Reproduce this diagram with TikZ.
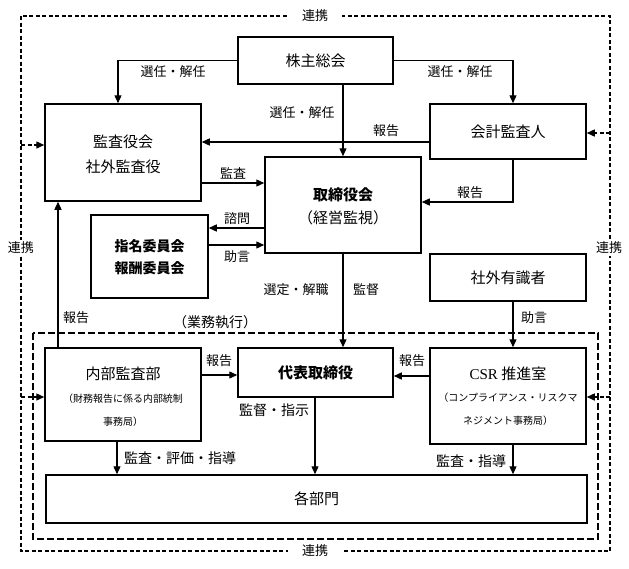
\documentclass[tikz,border=0pt]{standalone}
\usepackage{fontspec}
\setmainfont{Noto Sans CJK JP}
\newfontfamily\latinserif{Liberation Serif}
\usetikzlibrary{arrows.meta}
\begin{document}
\begin{tikzpicture}[x=1pt,y=-1pt,
  box/.style={draw, line width=1.5pt, fill=white, inner sep=0pt, font=\fontsize{15}{18}\selectfont},
  txt/.style={inner sep=0pt, font=\fontsize{15}{18}\selectfont},
  btxt/.style={inner sep=0pt, font=\fontsize{15}{18}\selectfont\bfseries},
  stxt/.style={inner sep=0pt, font=\fontsize{10}{12}\selectfont},
  lbl/.style={inner sep=0pt, font=\fontsize{13}{15}\selectfont},
  blbl/.style={inner sep=0pt, font=\fontsize{14}{16}\selectfont},
  arr/.style={line width=1.3pt, -{Triangle[length=8pt,width=7pt]}},
  darr/.style={line width=1.4pt, dash pattern=on 4pt off 2.5pt, -{Triangle[length=8pt,width=7pt]}},
  outerdash/.style={line width=1.4pt, dash pattern=on 4pt off 2.5pt},
  innerdash/.style={line width=2pt, dash pattern=on 7pt off 3pt},
  renkei/.style={fill=white, inner ysep=2pt, inner xsep=2pt, font=\fontsize{13}{15}\selectfont},
]
\useasboundingbox (0,0) rectangle (629,568);

% outer and inner dashed frames
\coordinate (oTL) at (21,16);
\coordinate (oBR) at (610,551);
\draw[outerdash] (oTL) rectangle (oBR);
\coordinate (iTL) at (33,333);
\coordinate (iBR) at (598,539);
\draw[innerdash] (iTL) rectangle (iBR);

\node[renkei, inner xsep=14pt] (rkT) at (315,16) {連携};
\node[renkei, inner xsep=14pt] (rkB) at (315,551) {連携};
\node[renkei] (rkL) at (21,248) {連携};
\node[renkei] (rkR) at (609,248) {連携};

% boxes
\node[box, minimum width=155pt, minimum height=47pt] (kabu) at (315.5,60.5) {株主総会};
\node[box, minimum width=156pt, minimum height=97pt] (kansa) at (123,152.5) {};
\node[txt] (kansaT1) at (123,142) {監査役会};
\node[txt] (kansaT2) at (123,167) {社外監査役};
\node[box, minimum width=156pt, minimum height=55pt] (kaikei) at (508,131.5) {会計監査人};
\node[box, minimum width=156pt, minimum height=96pt] (tori) at (343,205) {};
\node[btxt] (toriT1) at (343,195) {取締役会};
\node[txt] (toriT2) at (343,218) {（経営監視）};
\node[box, minimum width=117pt, minimum height=83pt] (shimei) at (149.5,256.5) {};
\node[btxt, font=\fontsize{14}{17}\selectfont\bfseries] (shimeiT1) at (149.5,246) {指名委員会};
\node[btxt, font=\fontsize{14}{17}\selectfont\bfseries] (shimeiT2) at (149.5,268) {報酬委員会};
\node[box, minimum width=156pt, minimum height=47pt] (shagai) at (508,277.5) {社外有識者};
\node[box, minimum width=156pt, minimum height=93pt] (naibu) at (123,394.5) {};
\node[txt] (naibuT1) at (123,374) {内部監査部};
\node[stxt] (naibuT2) at (123,399) {（財務報告に係る内部統制};
\node[stxt] (naibuT3) at (123,422) {事務局）};
\node[box, minimum width=155pt, minimum height=49pt, font=\fontsize{15}{18}\selectfont\bfseries] (daihyo) at (315.5,372.5) {代表取締役};
\node[box, minimum width=156pt, minimum height=96pt] (csr) at (508,396) {};
\node[txt] (csrT1) at (508,374) {{\latinserif CSR} 推進室};
\node[stxt] (csrT2) at (508,398) {（コンプライアンス・リスクマ};
\node[stxt] (csrT3) at (508,421) {ネジメント事務局）};
\node[box, minimum width=541pt, minimum height=48pt] (kakubu) at (316.5,499) {各部門};

% connectors
\draw[arr] (kabu.west) -| ([xshift=-5pt]kansa.north);
\draw[arr] (kabu.east) -| ([xshift=5pt]kaikei.north);
\draw[arr] (kabu.south -| tori.north) -- (tori.north);
\draw[arr] (kaikei.west |- 0,142) -- (kansa.east |- 0,142);
\draw[arr] (kansa.east |- 0,183) -- (tori.west |- 0,183);
\draw[arr] (kaikei.south -| 513,0) |- (tori.east |- 0,202);
\draw[arr] (tori.west |- 0,228) -- (shimei.east |- 0,228);
\draw[arr] (shimei.east |- 0,245) -- (tori.west |- 0,245);
\draw[arr] (tori.south) -- (tori.south |- daihyo.north);
\draw[arr] (shagai.south -| 513,0) -- (csr.north -| 513,0);
\draw[arr] (naibu.north -| 58,0) -- (kansa.south -| 58,0);
\draw[arr] (naibu.east |- 0,375) -- (daihyo.west |- 0,375);
\draw[arr] (csr.west |- 0,376) -- (daihyo.east |- 0,376);
\draw[arr] (daihyo.south -| 315,0) -- (kakubu.north -| 315,0);
\draw[arr] (naibu.south -| 117,0) -- (kakubu.north -| 117,0);
\draw[arr] (csr.south -| 513,0) -- (kakubu.north -| 513,0);

% dashed cooperation arrows
\coordinate (oL1) at (21,145);
\coordinate (oR1) at (610,133);
\coordinate (oL2) at (21,397);
\coordinate (oR2) at (610,397);
\draw[darr] (oL1) -- (kansa.west |- oL1);
\draw[darr] (oR1) -- (kaikei.east |- oR1);
\draw[darr] (oL2) -- (naibu.west |- oL2);
\draw[darr] (oR2) -- (csr.east |- oR2);

% labels
\node[lbl] (l1) at (173,72) {選任・解任};
\node[lbl] (l2) at (460,72) {選任・解任};
\node[lbl] (l3) at (302,113) {選任・解任};
\node[lbl] (l4) at (386,131) {報告};
\node[lbl] (l5) at (233,173) {監査};
\node[lbl] (l6) at (470,193) {報告};
\node[lbl] (l7) at (237,219) {諮問};
\node[lbl] (l8) at (237,257) {助言};
\node[lbl] (l9) at (296,290) {選定・解職};
\node[lbl] (l10) at (366,290) {監督};
\node[lbl] (l11) at (534,318) {助言};
\node[lbl] (l12) at (76,318) {報告};
\node[blbl] (l13) at (215,322) {（業務執行）};
\node[lbl] (l14) at (219,361) {報告};
\node[lbl] (l15) at (412,361) {報告};
\node[blbl] (l16) at (274,410) {監督・指示};
\node[blbl] (l17) at (180,458) {監査・評価・指導};
\node[blbl] (l18) at (471,461) {監査・指導};
\end{tikzpicture}
\end{document}
